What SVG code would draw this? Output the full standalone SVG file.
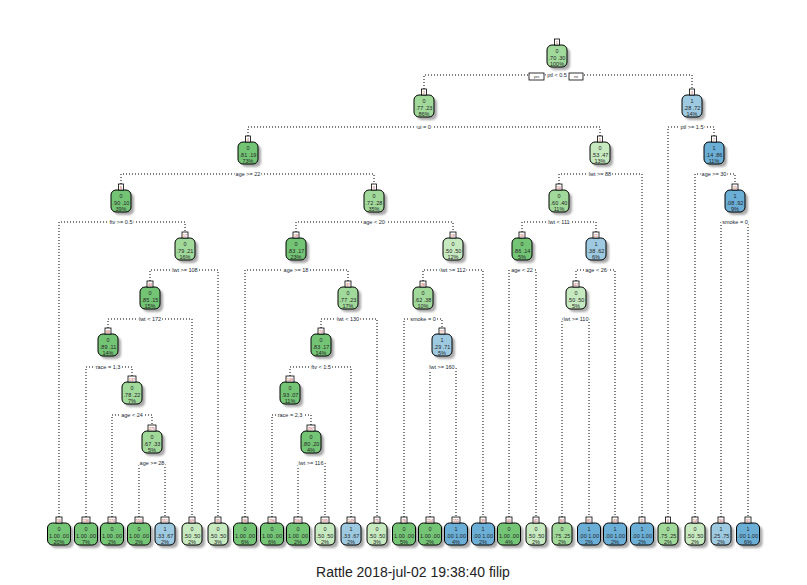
<svg xmlns="http://www.w3.org/2000/svg" width="807" height="585" viewBox="0 0 807 585">
<defs>
<filter id="soft" x="-30%" y="-30%" width="160%" height="160%"><feGaussianBlur stdDeviation="0.9"/></filter>
<style>
.sh{fill:#a8a8a8;filter:url(#soft)}
.bx{stroke:#000;stroke-width:1}
.g1{fill:#74c476}.g2{fill:#a1d99b}.g3{fill:#c7e9c0}
.b1{fill:#6baed6}.b2{fill:#9ecae1}
.tg{fill:#fff;stroke:#000;stroke-width:0.8}
.k{font-family:"Liberation Sans",Arial,sans-serif;font-size:3.6px;fill:#c0392b;text-anchor:middle}
.t{font-family:"Liberation Sans",Arial,sans-serif;font-size:5.5px;fill:#262626;text-anchor:middle}
.lb{font-family:"Liberation Sans",Arial,sans-serif;font-size:5.5px;fill:#1a1f33;text-anchor:middle;stroke:#fff;stroke-width:2.4;paint-order:stroke}
.yn{font-family:"Liberation Sans",Arial,sans-serif;font-size:3.6px;fill:#333;text-anchor:middle}
.br{fill:none;stroke:#000;stroke-width:1;stroke-dasharray:1 2}
.title{font-family:"Liberation Sans",Arial,sans-serif;font-size:14px;fill:#222;text-anchor:middle}
</style>
</defs>
<rect width="807" height="585" fill="#fff"/>

<!-- branches -->
<g id="connectors">
<path class="br" d="M424 89V75H692V89"/>
<path class="br" d="M248 136V127H600V136"/>
<path class="br" d="M668 517V127H714V136"/>
<path class="br" d="M121 184V174H374V184"/>
<path class="br" d="M559 184V174H642V517"/>
<path class="br" d="M695 517V174H735V184"/>
<path class="br" d="M59 517V222H185V232"/>
<path class="br" d="M296 232V222H453V232"/>
<path class="br" d="M522 232V222H596V232"/>
<path class="br" d="M721 517V222H748V517"/>
<path class="br" d="M150 281V270H218V517"/>
<path class="br" d="M245 517V270H348V281"/>
<path class="br" d="M423 281V270H483V517"/>
<path class="br" d="M509 517V270H536V517"/>
<path class="br" d="M576 281V270H615V517"/>
<path class="br" d="M108 328V319H192V517"/>
<path class="br" d="M321 328V319H377V517"/>
<path class="br" d="M404 517V319H442V328"/>
<path class="br" d="M562 517V319H589V517"/>
<path class="br" d="M86 517V367H132V376"/>
<path class="br" d="M290 376V367H351V517"/>
<path class="br" d="M430 517V367H456V517"/>
<path class="br" d="M112 517V415H152V425"/>
<path class="br" d="M272 517V415H311V425"/>
<path class="br" d="M139 517V463H165V517"/>
<path class="br" d="M298 517V463H325V517"/>
</g>

<!-- split labels -->
<g id="split-labels">
<rect class="tg" x="529" y="73" width="15" height="7"/><text class="yn" x="536.5" y="78">yes</text>
<rect class="tg" x="569" y="73" width="14" height="7"/><text class="yn" x="576" y="78">no</text>
<text class="lb" x="557" y="77">ptl &lt; 0.5</text>
<text class="lb" x="424" y="129">ui = 0</text>
<text class="lb" x="692" y="129">ptl &gt;= 1.5</text>
<text class="lb" x="248" y="176">age &gt;= 22</text>
<text class="lb" x="600" y="176">lwt &gt;= 88</text>
<text class="lb" x="714" y="176">age &gt;= 30</text>
<text class="lb" x="121" y="224">ftv &gt;= 0.5</text>
<text class="lb" x="374" y="224">age &lt; 20</text>
<text class="lb" x="559" y="224">lwt &lt; 111</text>
<text class="lb" x="735" y="224">smoke = 0</text>
<text class="lb" x="185" y="272">lwt &gt;= 108</text>
<text class="lb" x="296" y="272">age &gt;= 18</text>
<text class="lb" x="453" y="272">lwt &gt;= 112</text>
<text class="lb" x="522" y="272">age &lt; 22</text>
<text class="lb" x="596" y="272">age &lt; 26</text>
<text class="lb" x="150" y="321">lwt &lt; 172</text>
<text class="lb" x="348" y="321">lwt &lt; 130</text>
<text class="lb" x="423" y="321">smoke = 0</text>
<text class="lb" x="576" y="321">lwt &gt;= 110</text>
<text class="lb" x="108" y="369">race = 1,3</text>
<text class="lb" x="321" y="369">ftv &lt; 1.5</text>
<text class="lb" x="442" y="369">lwt &gt;= 160</text>
<text class="lb" x="132" y="417">age &lt; 24</text>
<text class="lb" x="290" y="417">race = 2,3</text>
<text class="lb" x="152" y="465">age &gt;= 28</text>
<text class="lb" x="311" y="465">lwt &gt;= 116</text>
</g>

<!-- internal nodes -->
<g id="node-1" transform="translate(557,45)"><rect class="sh" x="-7" y="3" width="20" height="22" rx="5"/><rect class="bx g2" x="-10" width="20" height="22" rx="5"/><rect class="tg" x="-2.5" y="-6" width="5" height="6"/><text class="k" y="-1.5">1</text><text class="t" y="8">0</text><text class="t" y="15">.70 .30</text><text class="t" y="21">100%</text></g>
<g id="node-2" transform="translate(424,95)"><rect class="sh" x="-7" y="3" width="20" height="22" rx="5"/><rect class="bx g2" x="-10" width="20" height="22" rx="5"/><rect class="tg" x="-2.5" y="-6" width="5" height="6"/><text class="k" y="-1.5">2</text><text class="t" y="8">0</text><text class="t" y="15">.77 .23</text><text class="t" y="21">86%</text></g>
<g id="node-3" transform="translate(692,95)"><rect class="sh" x="-7" y="3" width="20" height="22" rx="5"/><rect class="bx b2" x="-10" width="20" height="22" rx="5"/><rect class="tg" x="-2.5" y="-6" width="5" height="6"/><text class="k" y="-1.5">3</text><text class="t" y="8">1</text><text class="t" y="15">.28 .72</text><text class="t" y="21">14%</text></g>
<g id="node-4" transform="translate(248,142)"><rect class="sh" x="-7" y="3" width="20" height="22" rx="5"/><rect class="bx g1" x="-10" width="20" height="22" rx="5"/><rect class="tg" x="-2.5" y="-6" width="5" height="6"/><text class="k" y="-1.5">4</text><text class="t" y="8">0</text><text class="t" y="15">.81 .19</text><text class="t" y="21">73%</text></g>
<g id="node-5" transform="translate(600,142)"><rect class="sh" x="-7" y="3" width="20" height="22" rx="5"/><rect class="bx g3" x="-10" width="20" height="22" rx="5"/><rect class="tg" x="-2.5" y="-6" width="5" height="6"/><text class="k" y="-1.5">5</text><text class="t" y="8">0</text><text class="t" y="15">.53 .47</text><text class="t" y="21">13%</text></g>
<g id="node-7" transform="translate(714,142)"><rect class="sh" x="-7" y="3" width="20" height="22" rx="5"/><rect class="bx b1" x="-10" width="20" height="22" rx="5"/><rect class="tg" x="-2.5" y="-6" width="5" height="6"/><text class="k" y="-1.5">7</text><text class="t" y="8">1</text><text class="t" y="15">.14 .86</text><text class="t" y="21">11%</text></g>
<g id="node-8" transform="translate(121,190)"><rect class="sh" x="-7" y="3" width="20" height="22" rx="5"/><rect class="bx g1" x="-10" width="20" height="22" rx="5"/><rect class="tg" x="-2.5" y="-6" width="5" height="6"/><text class="k" y="-1.5">8</text><text class="t" y="8">0</text><text class="t" y="15">.90 .10</text><text class="t" y="21">39%</text></g>
<g id="node-9" transform="translate(374,190)"><rect class="sh" x="-7" y="3" width="20" height="22" rx="5"/><rect class="bx g2" x="-10" width="20" height="22" rx="5"/><rect class="tg" x="-2.5" y="-6" width="5" height="6"/><text class="k" y="-1.5">9</text><text class="t" y="8">0</text><text class="t" y="15">.72 .28</text><text class="t" y="21">35%</text></g>
<g id="node-10" transform="translate(559,190)"><rect class="sh" x="-7" y="3" width="20" height="22" rx="5"/><rect class="bx g2" x="-10" width="20" height="22" rx="5"/><rect class="tg" x="-3" y="-6" width="6" height="6"/><text class="k" y="-1.5">10</text><text class="t" y="8">0</text><text class="t" y="15">.60 .40</text><text class="t" y="21">11%</text></g>
<g id="node-15" transform="translate(735,190)"><rect class="sh" x="-7" y="3" width="20" height="22" rx="5"/><rect class="bx b1" x="-10" width="20" height="22" rx="5"/><rect class="tg" x="-3" y="-6" width="6" height="6"/><text class="k" y="-1.5">15</text><text class="t" y="8">1</text><text class="t" y="15">.08 .92</text><text class="t" y="21">9%</text></g>
<g id="node-17" transform="translate(185,238)"><rect class="sh" x="-7" y="3" width="20" height="22" rx="5"/><rect class="bx g2" x="-10" width="20" height="22" rx="5"/><rect class="tg" x="-3" y="-6" width="6" height="6"/><text class="k" y="-1.5">17</text><text class="t" y="8">0</text><text class="t" y="15">.79 .21</text><text class="t" y="21">16%</text></g>
<g id="node-18" transform="translate(296,238)"><rect class="sh" x="-7" y="3" width="20" height="22" rx="5"/><rect class="bx g1" x="-10" width="20" height="22" rx="5"/><rect class="tg" x="-3" y="-6" width="6" height="6"/><text class="k" y="-1.5">18</text><text class="t" y="8">0</text><text class="t" y="15">.83 .17</text><text class="t" y="21">23%</text></g>
<g id="node-19" transform="translate(453,238)"><rect class="sh" x="-7" y="3" width="20" height="22" rx="5"/><rect class="bx g3" x="-10" width="20" height="22" rx="5"/><rect class="tg" x="-3" y="-6" width="6" height="6"/><text class="k" y="-1.5">19</text><text class="t" y="8">0</text><text class="t" y="15">.50 .50</text><text class="t" y="21">12%</text></g>
<g id="node-20" transform="translate(522,238)"><rect class="sh" x="-7" y="3" width="20" height="22" rx="5"/><rect class="bx g1" x="-10" width="20" height="22" rx="5"/><rect class="tg" x="-3" y="-6" width="6" height="6"/><text class="k" y="-1.5">20</text><text class="t" y="8">0</text><text class="t" y="15">.86 .14</text><text class="t" y="21">5%</text></g>
<g id="node-21" transform="translate(596,238)"><rect class="sh" x="-7" y="3" width="20" height="22" rx="5"/><rect class="bx b2" x="-10" width="20" height="22" rx="5"/><rect class="tg" x="-3" y="-6" width="6" height="6"/><text class="k" y="-1.5">21</text><text class="t" y="8">1</text><text class="t" y="15">.38 .62</text><text class="t" y="21">6%</text></g>
<g id="node-34" transform="translate(150,287)"><rect class="sh" x="-7" y="3" width="20" height="22" rx="5"/><rect class="bx g1" x="-10" width="20" height="22" rx="5"/><rect class="tg" x="-3" y="-6" width="6" height="6"/><text class="k" y="-1.5">34</text><text class="t" y="8">0</text><text class="t" y="15">.85 .15</text><text class="t" y="21">15%</text></g>
<g id="node-37" transform="translate(348,287)"><rect class="sh" x="-7" y="3" width="20" height="22" rx="5"/><rect class="bx g2" x="-10" width="20" height="22" rx="5"/><rect class="tg" x="-3" y="-6" width="6" height="6"/><text class="k" y="-1.5">37</text><text class="t" y="8">0</text><text class="t" y="15">.77 .23</text><text class="t" y="21">17%</text></g>
<g id="node-38" transform="translate(423,287)"><rect class="sh" x="-7" y="3" width="20" height="22" rx="5"/><rect class="bx g2" x="-10" width="20" height="22" rx="5"/><rect class="tg" x="-3" y="-6" width="6" height="6"/><text class="k" y="-1.5">38</text><text class="t" y="8">0</text><text class="t" y="15">.62 .38</text><text class="t" y="21">10%</text></g>
<g id="node-42" transform="translate(576,287)"><rect class="sh" x="-7" y="3" width="20" height="22" rx="5"/><rect class="bx g3" x="-10" width="20" height="22" rx="5"/><rect class="tg" x="-3" y="-6" width="6" height="6"/><text class="k" y="-1.5">42</text><text class="t" y="8">0</text><text class="t" y="15">.50 .50</text><text class="t" y="21">5%</text></g>
<g id="node-68" transform="translate(108,334)"><rect class="sh" x="-7" y="3" width="20" height="22" rx="5"/><rect class="bx g1" x="-10" width="20" height="22" rx="5"/><rect class="tg" x="-3" y="-6" width="6" height="6"/><text class="k" y="-1.5">68</text><text class="t" y="8">0</text><text class="t" y="15">.89 .11</text><text class="t" y="21">14%</text></g>
<g id="node-74" transform="translate(321,334)"><rect class="sh" x="-7" y="3" width="20" height="22" rx="5"/><rect class="bx g1" x="-10" width="20" height="22" rx="5"/><rect class="tg" x="-3" y="-6" width="6" height="6"/><text class="k" y="-1.5">74</text><text class="t" y="8">0</text><text class="t" y="15">.83 .17</text><text class="t" y="21">14%</text></g>
<g id="node-77" transform="translate(442,334)"><rect class="sh" x="-7" y="3" width="20" height="22" rx="5"/><rect class="bx b2" x="-10" width="20" height="22" rx="5"/><rect class="tg" x="-3" y="-6" width="6" height="6"/><text class="k" y="-1.5">77</text><text class="t" y="8">1</text><text class="t" y="15">.29 .71</text><text class="t" y="21">5%</text></g>
<g id="node-137" transform="translate(132,382)"><rect class="sh" x="-7" y="3" width="20" height="22" rx="5"/><rect class="bx g2" x="-10" width="20" height="22" rx="5"/><rect class="tg" x="-4" y="-6" width="8" height="6"/><text class="k" y="-1.5">137</text><text class="t" y="8">0</text><text class="t" y="15">.78 .22</text><text class="t" y="21">7%</text></g>
<g id="node-148" transform="translate(290,382)"><rect class="sh" x="-7" y="3" width="20" height="22" rx="5"/><rect class="bx g1" x="-10" width="20" height="22" rx="5"/><rect class="tg" x="-4" y="-6" width="8" height="6"/><text class="k" y="-1.5">148</text><text class="t" y="8">0</text><text class="t" y="15">.93 .07</text><text class="t" y="21">11%</text></g>
<g id="node-275" transform="translate(152,431)"><rect class="sh" x="-7" y="3" width="20" height="22" rx="5"/><rect class="bx g2" x="-10" width="20" height="22" rx="5"/><rect class="tg" x="-4" y="-6" width="8" height="6"/><text class="k" y="-1.5">275</text><text class="t" y="8">0</text><text class="t" y="15">.67 .33</text><text class="t" y="21">5%</text></g>
<g id="node-297" transform="translate(311,431)"><rect class="sh" x="-7" y="3" width="20" height="22" rx="5"/><rect class="bx g1" x="-10" width="20" height="22" rx="5"/><rect class="tg" x="-4" y="-6" width="8" height="6"/><text class="k" y="-1.5">297</text><text class="t" y="8">0</text><text class="t" y="15">.80 .20</text><text class="t" y="21">4%</text></g>

<!-- leaves -->
<g id="leaf-16" transform="translate(59,523)"><rect class="sh" x="-8.5" y="3" width="23" height="22" rx="5"/><rect class="bx g1" x="-11.5" width="23" height="22" rx="5"/><rect class="tg" x="-3" y="-6" width="6" height="6"/><text class="k" y="-1.5">16</text><text class="t" y="8">0</text><text class="t" y="15">1.00 .00</text><text class="t" y="21">20%</text></g>
<g id="leaf-136" transform="translate(86,523)"><rect class="sh" x="-8.5" y="3" width="23" height="22" rx="5"/><rect class="bx g1" x="-11.5" width="23" height="22" rx="5"/><rect class="tg" x="-4" y="-6" width="8" height="6"/><text class="k" y="-1.5">136</text><text class="t" y="8">0</text><text class="t" y="15">1.00 .00</text><text class="t" y="21">7%</text></g>
<g id="leaf-274" transform="translate(112,523)"><rect class="sh" x="-8.5" y="3" width="23" height="22" rx="5"/><rect class="bx g1" x="-11.5" width="23" height="22" rx="5"/><rect class="tg" x="-4" y="-6" width="8" height="6"/><text class="k" y="-1.5">274</text><text class="t" y="8">0</text><text class="t" y="15">1.00 .00</text><text class="t" y="21">2%</text></g>
<g id="leaf-550" transform="translate(139,523)"><rect class="sh" x="-8.5" y="3" width="23" height="22" rx="5"/><rect class="bx g1" x="-11.5" width="23" height="22" rx="5"/><rect class="tg" x="-4" y="-6" width="8" height="6"/><text class="k" y="-1.5">550</text><text class="t" y="8">0</text><text class="t" y="15">1.00 .00</text><text class="t" y="21">2%</text></g>
<g id="leaf-551" transform="translate(165,523)"><rect class="sh" x="-7" y="3" width="20" height="22" rx="5"/><rect class="bx b2" x="-10" width="20" height="22" rx="5"/><rect class="tg" x="-4" y="-6" width="8" height="6"/><text class="k" y="-1.5">551</text><text class="t" y="8">1</text><text class="t" y="15">.33 .67</text><text class="t" y="21">2%</text></g>
<g id="leaf-69" transform="translate(192,523)"><rect class="sh" x="-7" y="3" width="20" height="22" rx="5"/><rect class="bx g3" x="-10" width="20" height="22" rx="5"/><rect class="tg" x="-3" y="-6" width="6" height="6"/><text class="k" y="-1.5">69</text><text class="t" y="8">0</text><text class="t" y="15">.50 .50</text><text class="t" y="21">2%</text></g>
<g id="leaf-35" transform="translate(218,523)"><rect class="sh" x="-7" y="3" width="20" height="22" rx="5"/><rect class="bx g3" x="-10" width="20" height="22" rx="5"/><rect class="tg" x="-3" y="-6" width="6" height="6"/><text class="k" y="-1.5">35</text><text class="t" y="8">0</text><text class="t" y="15">.50 .50</text><text class="t" y="21">3%</text></g>
<g id="leaf-36" transform="translate(245,523)"><rect class="sh" x="-8.5" y="3" width="23" height="22" rx="5"/><rect class="bx g1" x="-11.5" width="23" height="22" rx="5"/><rect class="tg" x="-3" y="-6" width="6" height="6"/><text class="k" y="-1.5">36</text><text class="t" y="8">0</text><text class="t" y="15">1.00 .00</text><text class="t" y="21">6%</text></g>
<g id="leaf-296" transform="translate(272,523)"><rect class="sh" x="-8.5" y="3" width="23" height="22" rx="5"/><rect class="bx g1" x="-11.5" width="23" height="22" rx="5"/><rect class="tg" x="-4" y="-6" width="8" height="6"/><text class="k" y="-1.5">296</text><text class="t" y="8">0</text><text class="t" y="15">1.00 .00</text><text class="t" y="21">6%</text></g>
<g id="leaf-594" transform="translate(298,523)"><rect class="sh" x="-8.5" y="3" width="23" height="22" rx="5"/><rect class="bx g1" x="-11.5" width="23" height="22" rx="5"/><rect class="tg" x="-4" y="-6" width="8" height="6"/><text class="k" y="-1.5">594</text><text class="t" y="8">0</text><text class="t" y="15">1.00 .00</text><text class="t" y="21">2%</text></g>
<g id="leaf-595" transform="translate(325,523)"><rect class="sh" x="-7" y="3" width="20" height="22" rx="5"/><rect class="bx g3" x="-10" width="20" height="22" rx="5"/><rect class="tg" x="-4" y="-6" width="8" height="6"/><text class="k" y="-1.5">595</text><text class="t" y="8">0</text><text class="t" y="15">.50 .50</text><text class="t" y="21">2%</text></g>
<g id="leaf-149" transform="translate(351,523)"><rect class="sh" x="-7" y="3" width="20" height="22" rx="5"/><rect class="bx b2" x="-10" width="20" height="22" rx="5"/><rect class="tg" x="-4" y="-6" width="8" height="6"/><text class="k" y="-1.5">149</text><text class="t" y="8">1</text><text class="t" y="15">.33 .67</text><text class="t" y="21">2%</text></g>
<g id="leaf-75" transform="translate(377,523)"><rect class="sh" x="-7" y="3" width="20" height="22" rx="5"/><rect class="bx g3" x="-10" width="20" height="22" rx="5"/><rect class="tg" x="-3" y="-6" width="6" height="6"/><text class="k" y="-1.5">75</text><text class="t" y="8">0</text><text class="t" y="15">.50 .50</text><text class="t" y="21">3%</text></g>
<g id="leaf-76" transform="translate(404,523)"><rect class="sh" x="-8.5" y="3" width="23" height="22" rx="5"/><rect class="bx g1" x="-11.5" width="23" height="22" rx="5"/><rect class="tg" x="-3" y="-6" width="6" height="6"/><text class="k" y="-1.5">76</text><text class="t" y="8">0</text><text class="t" y="15">1.00 .00</text><text class="t" y="21">5%</text></g>
<g id="leaf-154" transform="translate(430,523)"><rect class="sh" x="-8.5" y="3" width="23" height="22" rx="5"/><rect class="bx g1" x="-11.5" width="23" height="22" rx="5"/><rect class="tg" x="-4" y="-6" width="8" height="6"/><text class="k" y="-1.5">154</text><text class="t" y="8">0</text><text class="t" y="15">1.00 .00</text><text class="t" y="21">2%</text></g>
<g id="leaf-155" transform="translate(456,523)"><rect class="sh" x="-8.5" y="3" width="23" height="22" rx="5"/><rect class="bx b1" x="-11.5" width="23" height="22" rx="5"/><rect class="tg" x="-4" y="-6" width="8" height="6"/><text class="k" y="-1.5">155</text><text class="t" y="8">1</text><text class="t" y="15">.00 1.00</text><text class="t" y="21">4%</text></g>
<g id="leaf-39" transform="translate(483,523)"><rect class="sh" x="-8.5" y="3" width="23" height="22" rx="5"/><rect class="bx b1" x="-11.5" width="23" height="22" rx="5"/><rect class="tg" x="-3" y="-6" width="6" height="6"/><text class="k" y="-1.5">39</text><text class="t" y="8">1</text><text class="t" y="15">.00 1.00</text><text class="t" y="21">2%</text></g>
<g id="leaf-40" transform="translate(509,523)"><rect class="sh" x="-8.5" y="3" width="23" height="22" rx="5"/><rect class="bx g1" x="-11.5" width="23" height="22" rx="5"/><rect class="tg" x="-3" y="-6" width="6" height="6"/><text class="k" y="-1.5">40</text><text class="t" y="8">0</text><text class="t" y="15">1.00 .00</text><text class="t" y="21">4%</text></g>
<g id="leaf-41" transform="translate(536,523)"><rect class="sh" x="-7" y="3" width="20" height="22" rx="5"/><rect class="bx g3" x="-10" width="20" height="22" rx="5"/><rect class="tg" x="-3" y="-6" width="6" height="6"/><text class="k" y="-1.5">41</text><text class="t" y="8">0</text><text class="t" y="15">.50 .50</text><text class="t" y="21">2%</text></g>
<g id="leaf-84" transform="translate(562,523)"><rect class="sh" x="-7" y="3" width="20" height="22" rx="5"/><rect class="bx g2" x="-10" width="20" height="22" rx="5"/><rect class="tg" x="-3" y="-6" width="6" height="6"/><text class="k" y="-1.5">84</text><text class="t" y="8">0</text><text class="t" y="15">.75 .25</text><text class="t" y="21">2%</text></g>
<g id="leaf-85" transform="translate(589,523)"><rect class="sh" x="-8.5" y="3" width="23" height="22" rx="5"/><rect class="bx b1" x="-11.5" width="23" height="22" rx="5"/><rect class="tg" x="-3" y="-6" width="6" height="6"/><text class="k" y="-1.5">85</text><text class="t" y="8">1</text><text class="t" y="15">.00 1.00</text><text class="t" y="21">2%</text></g>
<g id="leaf-43" transform="translate(615,523)"><rect class="sh" x="-8.5" y="3" width="23" height="22" rx="5"/><rect class="bx b1" x="-11.5" width="23" height="22" rx="5"/><rect class="tg" x="-3" y="-6" width="6" height="6"/><text class="k" y="-1.5">43</text><text class="t" y="8">1</text><text class="t" y="15">.00 1.00</text><text class="t" y="21">2%</text></g>
<g id="leaf-11" transform="translate(642,523)"><rect class="sh" x="-8.5" y="3" width="23" height="22" rx="5"/><rect class="bx b1" x="-11.5" width="23" height="22" rx="5"/><rect class="tg" x="-3" y="-6" width="6" height="6"/><text class="k" y="-1.5">11</text><text class="t" y="8">1</text><text class="t" y="15">.00 1.00</text><text class="t" y="21">2%</text></g>
<g id="leaf-6" transform="translate(668,523)"><rect class="sh" x="-7" y="3" width="20" height="22" rx="5"/><rect class="bx g2" x="-10" width="20" height="22" rx="5"/><rect class="tg" x="-2.5" y="-6" width="5" height="6"/><text class="k" y="-1.5">6</text><text class="t" y="8">0</text><text class="t" y="15">.75 .25</text><text class="t" y="21">2%</text></g>
<g id="leaf-14" transform="translate(695,523)"><rect class="sh" x="-7" y="3" width="20" height="22" rx="5"/><rect class="bx g3" x="-10" width="20" height="22" rx="5"/><rect class="tg" x="-3" y="-6" width="6" height="6"/><text class="k" y="-1.5">14</text><text class="t" y="8">0</text><text class="t" y="15">.50 .50</text><text class="t" y="21">2%</text></g>
<g id="leaf-30" transform="translate(721,523)"><rect class="sh" x="-7" y="3" width="20" height="22" rx="5"/><rect class="bx b2" x="-10" width="20" height="22" rx="5"/><rect class="tg" x="-3" y="-6" width="6" height="6"/><text class="k" y="-1.5">30</text><text class="t" y="8">1</text><text class="t" y="15">.25 .75</text><text class="t" y="21">2%</text></g>
<g id="leaf-31" transform="translate(748,523)"><rect class="sh" x="-8.5" y="3" width="23" height="22" rx="5"/><rect class="bx b1" x="-11.5" width="23" height="22" rx="5"/><rect class="tg" x="-3" y="-6" width="6" height="6"/><text class="k" y="-1.5">31</text><text class="t" y="8">1</text><text class="t" y="15">.00 1.00</text><text class="t" y="21">6%</text></g>

<text class="title" x="413" y="577">Rattle 2018-jul-02 19:38:40 filip</text>
</svg>
